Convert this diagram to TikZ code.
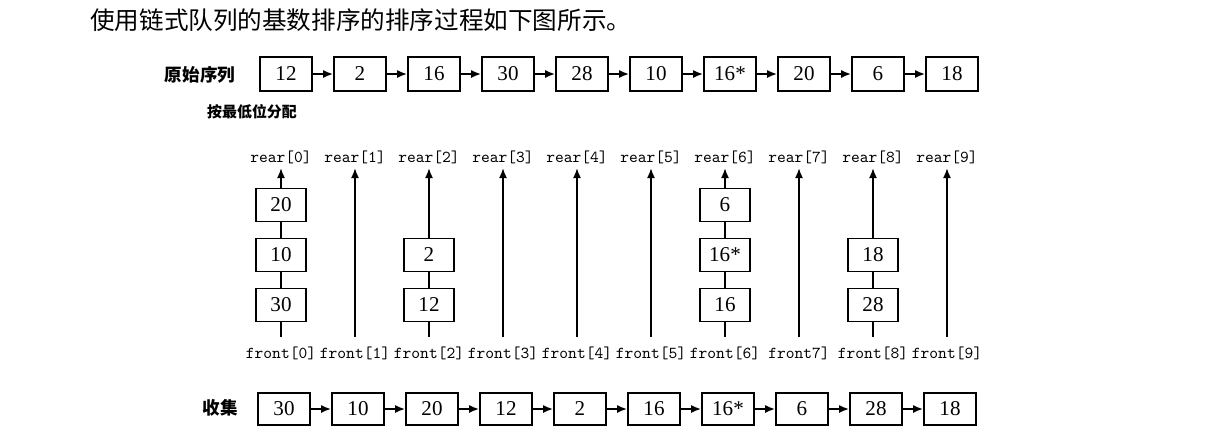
\documentclass[tikz,border=0pt]{standalone}
\usepackage{fontspec}
\setmainfont{Liberation Serif}
\newfontfamily\cjk{Noto Sans CJK SC}
\usetikzlibrary{arrows.meta, positioning}

\begin{document}
\begin{tikzpicture}[
    x=0.02cm, y=-0.02cm,
    cell/.style={rectangle, draw, line width=1pt, fill=white, minimum width=1.04cm, minimum height=0.68cm, inner sep=0pt, font=\fontsize{12}{14}\selectfont},
    qcell/.style={cell, minimum width=1cm, minimum height=0.66cm},
    tag/.style={font=\cjk\bfseries\fontsize{10}{12}\selectfont},
    ptr/.style={font=\ttfamily\fontsize{9.5}{11}\selectfont, inner sep=0pt},
    link/.style={-{Latex[length=2mm,width=1.6mm]}, line width=1pt}
]
\useasboundingbox (0,0) rectangle (1231,427);

% Nodes
\node[anchor=west, font=\cjk\fontsize{14}{16}\selectfont] (title) at (84,20) {使用链式队列的基数排序的排序过程如下图所示。};

\node[tag] (orig) at (200,75) {原始序列};
\foreach \v [count=\i from 0] in {12,2,16,30,28,10,16*,20,6,18}
    \node[cell] (t\i) at (286+74*\i,74) {\v};

\node[tag, font=\cjk\bfseries\fontsize{8.5}{10}\selectfont] (dist) at (252,112) {按最低位分配};

\foreach \i in {0,...,9} {
    \node[ptr] (rl\i) at (281+74*\i,157) {rear[\i]};
    \coordinate (r\i) at (281+74*\i,168);
    \coordinate (f\i) at (281+74*\i,337);
}
\foreach \t [count=\i from 0] in {front[0],front[1],front[2],front[3],front[4],front[5],front[6],front7],front[8],front[9]}
    \node[ptr] (fl\i) at (281+74*\i,353) {\t};

% queue 0
\node[qcell] (d20) at (281,205) {20};
\node[qcell] (d10) at (281,255) {10};
\node[qcell] (d30) at (281,305) {30};
% queue 2
\node[qcell] (d2) at (429,255) {2};
\node[qcell] (d12) at (429,305) {12};
% queue 6
\node[qcell] (d6) at (725,205) {6};
\node[qcell] (d16s) at (725,255) {16*};
\node[qcell] (d16) at (725,305) {16};
% queue 8
\node[qcell] (d18) at (873,255) {18};
\node[qcell] (d28) at (873,305) {28};

\node[tag] (coll) at (220,408) {收集};
\foreach \v [count=\i from 0] in {30,10,20,12,2,16,16*,6,28,18}
    \node[cell, minimum height=0.64cm] (s\i) at (284+74*\i,409) {\v};

% Paths
\foreach \i in {1,...,9} {
    \pgfmathtruncatemacro\p{\i-1}
    \draw[link] (t\p) -- (t\i);
    \draw[link] (s\p) -- (s\i);
}

\foreach \i in {1,3,4,5,7,9}
    \draw[link] (f\i) -- (r\i);
\draw[link] (f0) -- (d30) -- (d10) -- (d20) -- (r0);
\draw[link] (f2) -- (d12) -- (d2) -- (r2);
\draw[link] (f6) -- (d16) -- (d16s) -- (d6) -- (r6);
\draw[link] (f8) -- (d28) -- (d18) -- (r8);
\end{tikzpicture}
\end{document}
